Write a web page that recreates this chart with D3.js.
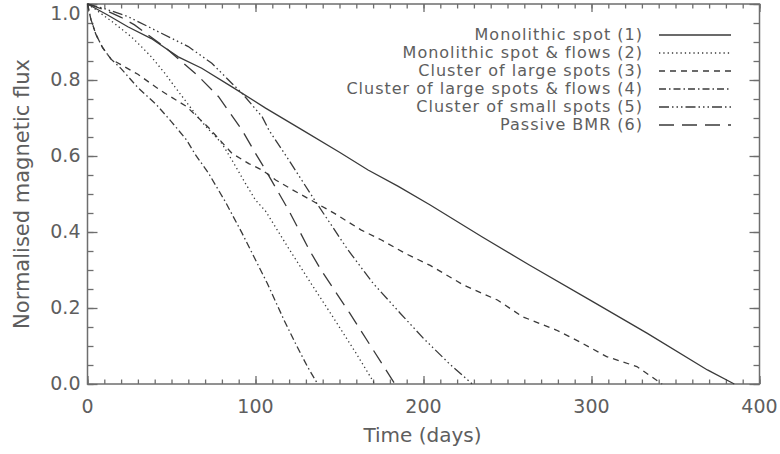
<!DOCTYPE html>
<html>
<head>
<meta charset="utf-8">
<script src="https://cdn.jsdelivr.net/npm/d3@7"></script>
<style>
  body { margin: 0; background: #fff; }
  text { font-family: "DejaVu Sans", sans-serif; fill: #5e5e5e; }
  .tick-label { font-size: 19px; }
  .title { font-size: 20px; }
  .legend text { font-size: 16px; letter-spacing: 1px; }
  .curve { fill: none; stroke: #3a3a3a; stroke-width: 1.3; }
</style>
</head>
<body>
<div id="chart"></div>
<script>
// values (days, normalised flux)
var days1 = [0, 12, 24, 38, 54, 68, 86, 106, 128, 150, 167, 185, 204, 235, 263, 301, 333, 369, 385];
var flux1 = [1.0, 0.971, 0.94, 0.909, 0.861, 0.831, 0.782, 0.726, 0.668, 0.61, 0.563, 0.52, 0.471, 0.387, 0.313, 0.216, 0.134, 0.037, 0.0];

var days2 = [0, 5, 16, 26, 32, 38, 46, 52, 58, 64, 70, 80, 86, 94, 100, 106, 120, 133, 146, 160, 171];
var flux2 = [1.0, 0.985, 0.949, 0.914, 0.888, 0.861, 0.818, 0.782, 0.747, 0.712, 0.68, 0.633, 0.589, 0.528, 0.484, 0.455, 0.355, 0.265, 0.177, 0.08, 0.0];

var days3 = [0, 2, 5, 9, 14, 22, 30, 43, 59, 72, 86, 96, 104, 112, 122, 131, 147, 163, 175, 189, 204, 224, 244, 259, 279, 293, 309, 327, 342];
var flux3 = [1.0, 0.96, 0.92, 0.885, 0.855, 0.835, 0.815, 0.774, 0.73, 0.675, 0.607, 0.58, 0.563, 0.537, 0.511, 0.489, 0.449, 0.405, 0.379, 0.344, 0.312, 0.26, 0.221, 0.177, 0.142, 0.111, 0.072, 0.046, 0.0];

var days4 = [0, 2, 5, 9, 14, 20, 30, 41, 50, 59, 64, 72, 82, 92, 97, 107, 117, 124, 131, 137];
var flux4 = [1.0, 0.96, 0.92, 0.885, 0.855, 0.83, 0.78, 0.735, 0.69, 0.642, 0.605, 0.555, 0.48, 0.397, 0.353, 0.265, 0.168, 0.105, 0.045, 0.0];

var days5 = [0, 10, 24, 44, 60, 74, 86, 92, 104, 108, 120, 135, 155, 170, 186, 200, 215, 229];
var flux5 = [1.0, 0.988, 0.967, 0.923, 0.888, 0.844, 0.791, 0.765, 0.703, 0.668, 0.588, 0.485, 0.353, 0.265, 0.187, 0.12, 0.055, 0.0];

var days6 = [0, 10, 20, 28, 47, 54, 66, 78, 92, 100, 106, 120, 132, 139, 156, 170, 183];
var flux6 = [1.0, 0.985, 0.965, 0.945, 0.883, 0.856, 0.81, 0.756, 0.668, 0.607, 0.563, 0.455, 0.353, 0.3, 0.187, 0.09, 0.0];

var seriesNames = ["Monolithic spot (1)", "Monolithic spot & flows (2)", "Cluster of large spots (3)",
                   "Cluster of large spots & flows (4)", "Cluster of small spots (5)", "Passive BMR (6)"];
var xTicks = [0, 100, 200, 300, 400];
var yTicks = [0.0, 0.2, 0.4, 0.6, 0.8, 1.0];

var dashes = ["none", "1.3,3", "6,5", "7,3,1.5,3", "10,3,1.5,3,1.5,3,1.5,3", "15,8"];

var margin = {top: 4, right: 20.5, bottom: 70, left: 87.5};
var W = 780, H = 454;
var width = W - margin.left - margin.right;
var height = H - margin.top - margin.bottom;

var svg = d3.select("#chart").append("svg")
  .attr("width", W).attr("height", H);

var g = svg.append("g")
  .attr("transform", "translate(" + margin.left + "," + margin.top + ")");

var x = d3.scaleLinear().domain([0, 400]).range([0, width]);
var y = d3.scaleLinear().domain([0, 1]).range([height, 0]);

var axisColor = "#6e6e6e";

// axes (IDL style box with inward ticks)
function styleAxis(sel) {
  sel.select(".domain").remove();
  sel.selectAll("line").attr("stroke", axisColor).attr("stroke-width", 1.3);
}

var xMinor = d3.range(0, 401, 10);
var yMinor = d3.range(0, 1.0001, 0.05);

g.append("g").attr("transform", "translate(0," + height + ")")
  .call(d3.axisTop(x).tickValues(xMinor).tickSize(4.5).tickFormat(""))
  .call(styleAxis);
g.append("g").attr("transform", "translate(0," + height + ")")
  .call(d3.axisTop(x).tickValues(xTicks).tickSize(8).tickFormat(""))
  .call(styleAxis);
g.append("g")
  .call(d3.axisBottom(x).tickValues(xMinor).tickSize(4.5).tickFormat(""))
  .call(styleAxis);
g.append("g")
  .call(d3.axisBottom(x).tickValues(xTicks).tickSize(8).tickFormat(""))
  .call(styleAxis);

g.append("g")
  .call(d3.axisRight(y).tickValues(yMinor).tickSize(6).tickFormat(""))
  .call(styleAxis);
g.append("g")
  .call(d3.axisRight(y).tickValues(yTicks).tickSize(10).tickFormat(""))
  .call(styleAxis);
g.append("g").attr("transform", "translate(" + width + ",0)")
  .call(d3.axisLeft(y).tickValues(yMinor).tickSize(6).tickFormat(""))
  .call(styleAxis);
g.append("g").attr("transform", "translate(" + width + ",0)")
  .call(d3.axisLeft(y).tickValues(yTicks).tickSize(10).tickFormat(""))
  .call(styleAxis);

g.append("rect")
  .attr("x", 0).attr("y", 0)
  .attr("width", width).attr("height", height)
  .attr("fill", "none")
  .attr("stroke", axisColor)
  .attr("stroke-width", 1.5);

// tick labels
g.selectAll(".xlab").data(xTicks).enter().append("text")
  .attr("class", "tick-label")
  .attr("x", function(d) { return x(d); })
  .attr("y", height + 29)
  .attr("text-anchor", "middle")
  .text(function(d) { return d; });

g.selectAll(".ylab").data(yTicks).enter().append("text")
  .attr("class", "tick-label")
  .attr("x", -7)
  .attr("y", function(d) { return Math.max(y(d) - 1, 9); })
  .attr("dy", "0.35em")
  .attr("text-anchor", "end")
  .text(function(d) { return d3.format(".1f")(d); });

// axis titles
svg.append("text")
  .attr("class", "title")
  .attr("x", margin.left + x(200) - 1)
  .attr("y", 442)
  .attr("text-anchor", "middle")
  .text("Time (days)");

svg.append("text")
  .attr("class", "title")
  .attr("transform", "translate(29," + (margin.top + y(0.5)) + ") rotate(-90)")
  .attr("text-anchor", "middle")
  .style("font-size", "21px")
  .text("Normalised magnetic flux");

// curves
var allDays = [days1, days2, days3, days4, days5, days6];
var allFlux = [flux1, flux2, flux3, flux4, flux5, flux6];

var line = d3.line()
  .x(function(d) { return x(d[0]); })
  .y(function(d) { return y(d[1]); });

allDays.forEach(function(dd, i) {
  var pts = dd.map(function(t, j) { return [t, allFlux[i][j]]; });
  g.append("path")
    .datum(pts)
    .attr("class", "curve")
    .attr("d", line)
    .attr("stroke-dasharray", dashes[i]);
});

// legend
var legend = svg.selectAll(".legend")
  .data(seriesNames)
  .enter().append("g")
  .attr("class", "legend")
  .attr("transform", function(d, i) { return "translate(0," + (35 + i * 18) + ")"; });

legend.append("text")
  .attr("x", 643)
  .attr("y", 5)
  .attr("text-anchor", "end")
  .text(function(d) { return d; });

legend.append("line")
  .attr("x1", 659).attr("x2", 731)
  .attr("y1", 0).attr("y2", 0)
  .attr("class", "curve")
  .attr("stroke-dasharray", function(d, i) { return dashes[i]; });
</script>
</body>
</html>
